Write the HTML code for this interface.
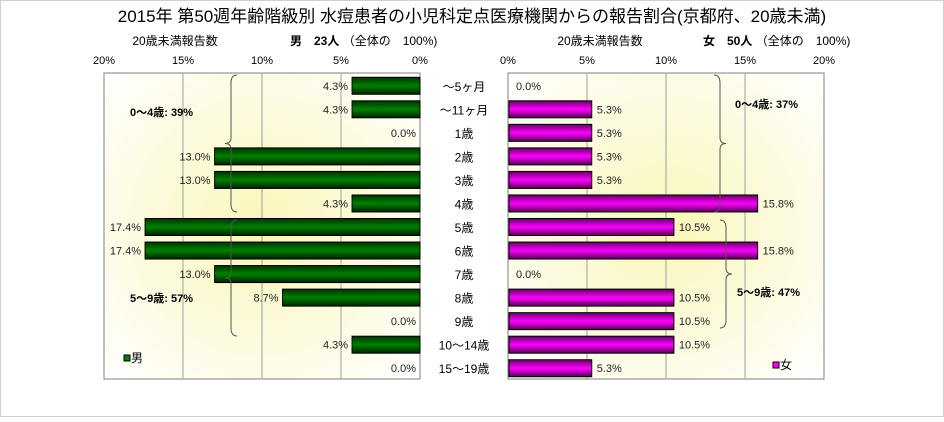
<!DOCTYPE html>
<html><head><meta charset="utf-8"><style>
body{margin:0;background:#fff;}
svg text{font-family:"Liberation Sans","Noto Sans CJK JP",sans-serif;}
</style></head><body>
<svg width="944" height="417" viewBox="0 0 944 417" xmlns="http://www.w3.org/2000/svg">
<defs>
<radialGradient id="bg" cx="0.5" cy="0.5" r="0.7"><stop offset="0" stop-color="#f9f6b8"/><stop offset="1" stop-color="#ffffff"/></radialGradient>
<linearGradient id="gg" x1="0" y1="0" x2="0" y2="1"><stop offset="0" stop-color="#003300"/><stop offset="0.5" stop-color="#008000"/><stop offset="1" stop-color="#002200"/></linearGradient>
<linearGradient id="mg" x1="0" y1="0" x2="0" y2="1"><stop offset="0" stop-color="#660066"/><stop offset="0.5" stop-color="#ff00ff"/><stop offset="1" stop-color="#550055"/></linearGradient>
</defs>
<rect x="0.5" y="0.5" width="943" height="416" fill="#fff" stroke="#d0d0d0"/>
<text x="472" y="22" font-size="17" text-anchor="middle">2015年 第50週年齢階級別 水痘患者の小児科定点医療機関からの報告割合(京都府、20歳未満)</text>
<g id="left"></g>
<g id="right"></g>
<g id="cats"></g>
</svg>
<script>
const cats=["～5ヶ月","～11ヶ月","1歳","2歳","3歳","4歳","5歳","6歳","7歳","8歳","9歳","10～14歳","15～19歳"];
const maleValues=[4.3,4.3,0.0,13.0,13.0,4.3,17.4,17.4,13.0,8.7,0.0,4.3,0.0];
const femaleValues=[0.0,5.3,5.3,5.3,5.3,15.8,10.5,15.8,0.0,10.5,10.5,10.5,5.3];
const tickLabels=["0%","5%","10%","15%","20%"];
const tickValues=[0,5,10,15,20];
const NS="http://www.w3.org/2000/svg";
const TOP=73,BOT=379,ROWH=(BOT-TOP)/13;
function rowY(i){return TOP+ROWH*(i+0.5)+1;}
function xL(v){return 420-v*15.8;}
function xR(v){return 508+v*15.8;}
function mk(p,tag,a,txt){const e=document.createElementNS(NS,tag);for(const k in a)e.setAttribute(k,a[k]);if(txt!==undefined)e.textContent=txt;p.appendChild(e);return e;}
const L=document.getElementById('left'),R=document.getElementById('right'),C=document.getElementById('cats');
let e=mk(L,'rect',{x:104,y:TOP,width:316,height:BOT-TOP,fill:'url(#bg)',stroke:'#808080'});


e=mk(R,'rect',{x:508,y:TOP,width:316,height:BOT-TOP,fill:'url(#bg)',stroke:'#808080'});


tickValues.forEach((t,k)=>{
  if(t>0&&t<20){
    e=mk(L,'line',{x1:xL(t),x2:xL(t),y1:TOP,y2:BOT,stroke:'#a0a0a0'});
    
    
    e=mk(R,'line',{x1:xR(t),x2:xR(t),y1:TOP,y2:BOT,stroke:'#a0a0a0'});
    
    
  }
  e=mk(L,'text',{x:xL(t),y:64,'font-size':11,'text-anchor':'middle'},tickLabels[k]);
  
  
  e=mk(R,'text',{x:xR(t),y:64,'font-size':11,'text-anchor':'middle'},tickLabels[k]);
  
  
});
e=mk(L,'text',{x:175,y:45,'font-size':12,'text-anchor':'middle'},'20歳未満報告数');


e=mk(L,'text',{x:290,y:45,'font-size':12},'');


e.innerHTML='<tspan font-weight="bold">男　23人</tspan> （全体の　100%)';
e=mk(R,'text',{x:600,y:45,'font-size':12,'text-anchor':'middle'},'20歳未満報告数');


e=mk(R,'text',{x:703,y:45,'font-size':12},'');


e.innerHTML='<tspan font-weight="bold">女　50人</tspan> （全体の　100%)';
cats.forEach((c,i)=>{
  const y=rowY(i),h=17,m=maleValues[i],f=femaleValues[i];
  if(m>0){e=mk(L,'rect',{x:xL(m),y:y-h/2,width:420-xL(m),height:h,fill:'url(#gg)',stroke:'#000'});
    
    }
  e=mk(L,'text',{x:xL(m)-4,y:y+4,'font-size':11,'text-anchor':'end',fill:'#222'},m.toFixed(1)+'%');
  
  
  if(f>0){e=mk(R,'rect',{x:509,y:y-h/2,width:xR(f)-509,height:h,fill:'url(#mg)',stroke:'#000'});
    
    }
  e=mk(R,'text',{x:(f>0?xR(f)+5:516),y:y+4,'font-size':11,fill:'#222'},f.toFixed(1)+'%');
  
  
  e=mk(C,'text',{x:464,y:y+5,'font-size':12,'text-anchor':'middle'},c);
  
  
});
function brace(p,x,y1,y2,dir,name){
  const m=(y1+y2)/2,d=dir*6;
  e=mk(p,'path',{d:`M${x+d},${y1} Q${x},${y1} ${x},${y1+8} L${x},${m-6} Q${x},${m} ${x-d},${m} Q${x},${m} ${x},${m+6} L${x},${y2-8} Q${x},${y2} ${x+d},${y2}`,fill:'none',stroke:'#555'});
  
  
}
brace(L,231,75,212,1,'male-0-4-brace');
brace(L,231,220,336,1,'male-5-9-brace');
brace(R,720,75,212,-1,'female-0-4-brace');
brace(R,726,220,328,-1,'female-5-9-brace');
const ann=[[L,130,116,'0～4歳: 39%','male-0-4-share'],[L,130,302,'5～9歳: 57%','male-5-9-share'],[R,735,108,'0～4歳: 37%','female-0-4-share'],[R,737,296,'5～9歳: 47%','female-5-9-share']];
ann.forEach(a=>{e=mk(a[0],'text',{x:a[1],y:a[2],'font-size':11,'font-weight':'bold'},a[3]);
  
  });
e=mk(L,'rect',{x:124,y:355,width:6,height:6,fill:'#008000',stroke:'#000'});


e=mk(L,'text',{x:131,y:362,'font-size':12},'男');


e=mk(R,'rect',{x:773,y:362,width:6,height:6,fill:'#ff00ff',stroke:'#000'});


e=mk(R,'text',{x:780,y:369,'font-size':12},'女');


</script>
</body></html>
